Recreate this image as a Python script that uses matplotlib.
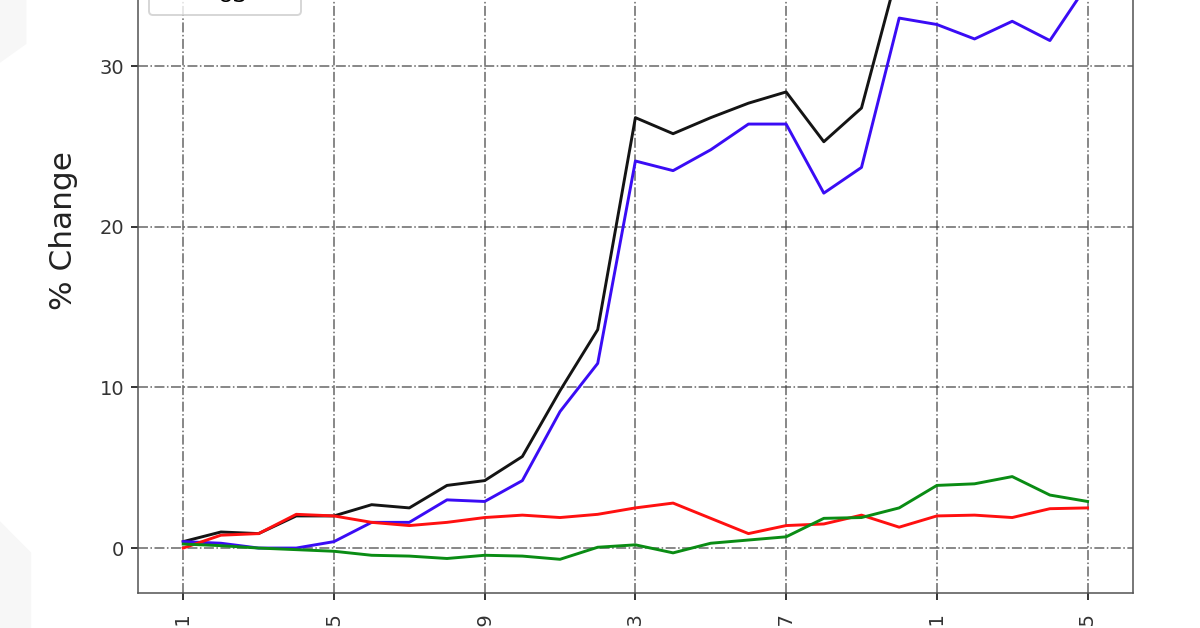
import matplotlib
matplotlib.use("Agg")
import matplotlib.pyplot as plt
from matplotlib.patches import Polygon
import numpy as np

# data (x = day index, 25 points)
days = ["2020-03-%02d" % d for d in range(1, 26)]
tick_days = ["2020-03-01", "2020-03-05", "2020-03-09", "2020-03-13",
             "2020-03-17", "2020-03-21", "2020-03-25"]

total = [0.4, 1.0, 0.9, 2.0, 2.0, 2.7, 2.5, 3.9, 4.2, 5.7, 9.8, 13.6, 26.8,
         25.8, 26.8, 27.7, 28.4, 25.3, 27.4, 36.2, 36.0, 35.4, 36.6, 35.7, 40.5]
china = [0.4, 0.3, 0.0, 0.0, 0.4, 1.6, 1.6, 3.0, 2.9, 4.2, 8.5, 11.5, 24.1,
         23.5, 24.8, 26.4, 26.4, 22.1, 23.7, 33.0, 32.6, 31.7, 32.8, 31.6, 35.1]
europe = [0.0, 0.8, 0.9, 2.1, 2.0, 1.6, 1.4, 1.6, 1.9, 2.05, 1.9, 2.1, 2.5,
          2.8, 1.85, 0.9, 1.4, 1.5, 2.05, 1.3, 2.0, 2.05, 1.9, 2.45, 2.5]
us = [0.25, 0.15, 0.0, -0.1, -0.2, -0.45, -0.5, -0.65, -0.45, -0.5, -0.7, 0.05,
      0.2, -0.3, 0.3, 0.5, 0.7, 1.85, 1.9, 2.5, 3.9, 4.0, 4.45, 3.3, 2.9]

dpi = 140
fig = plt.figure(figsize=(1200 / dpi, 628 / dpi), dpi=dpi)

# faint page shapes at the left edge of the screenshot
fig.patches.append(Polygon([[0, 1], [0.022, 1], [0.022, 0.93], [0.0, 0.9]],
                           closed=True, transform=fig.transFigure,
                           facecolor="#f7f7f7", edgecolor="none", zorder=0))
fig.patches.append(Polygon([[0, 0], [0.026, 0], [0.026, 0.12], [0.0, 0.17]],
                           closed=True, transform=fig.transFigure,
                           facecolor="#f7f7f7", edgecolor="none", zorder=0))

# the picture is a crop: the axes run off the top of the canvas
ax = fig.add_axes([0.115, 0.0557, 0.829, 1.1815])

ax.plot(days, total, color="#141414", lw=1.5, label="World")
ax.plot(days, china, color="#3a0cf5", lw=1.5, label="China")
ax.plot(days, europe, color="#ff1010", lw=1.5, label="Europe")
ax.plot(days, us, color="#0a8c14", lw=1.5, label="US")

ax.set_xlim(-1.2, 25.2)
ax.set_ylim(-2.8, 43.4)
ax.set_yticks([0, 10, 20, 30, 40])
ax.set_xticks(tick_days)
ax.set_xticklabels(tick_days, rotation=90, fontsize=10, color="#333333")
ax.tick_params(axis="x", pad=6.5)
ax.tick_params(axis="y", labelsize=10, labelcolor="#333333")
ax.set_ylabel("% Change", fontsize=16, color="#222222")
ax.yaxis.set_label_coords(-0.060, 0.489)
ax.grid(True, linestyle="-.", color="#444444", lw=0.8, alpha=0.8)
for s in ax.spines.values():
    s.set_color("#555555")

ax.legend(loc="lower left", bbox_to_anchor=(149 / 1200, 1 - 15 / 628),
          bbox_transform=fig.transFigure, borderaxespad=0, fontsize=11)

fig.savefig("out.png", dpi=dpi)
